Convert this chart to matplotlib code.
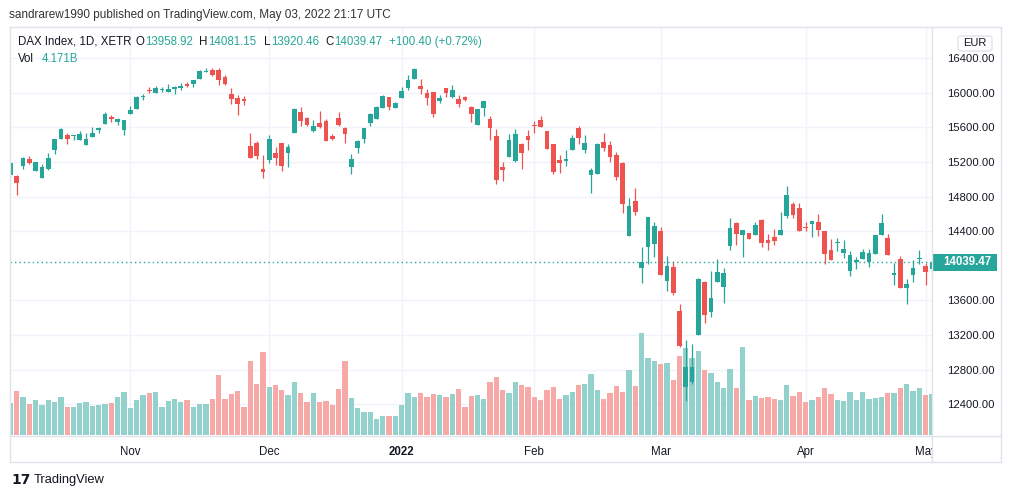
import matplotlib
matplotlib.use('Agg')
import matplotlib.pyplot as plt
import numpy as np
import pandas as pd
from matplotlib.lines import Line2D
from matplotlib.patches import Rectangle, FancyBboxPatch
import matplotlib.transforms as mtransforms

plt.rcParams['font.family'] = ['Liberation Sans', 'DejaVu Sans']

TEAL = '#26a69a'
RED = '#ef5350'
TEAL_VOL = '#93d2cc'
RED_VOL = '#f7a9a7'
TXT = '#131722'
GRID = '#f0f3fa'
BORDER = '#e0e3eb'

# trading days on XETR (exchange holidays removed)
holidays = ['2021-12-24', '2021-12-31', '2022-04-15', '2022-04-18']
dates = pd.bdate_range('2021-10-05', '2022-05-03')
dates = dates[~dates.isin(pd.to_datetime(holidays))]

opens = [15050, 15040, 15155, 15232, 15100, 15020, 15120, 15344, 15467, 15510,
         15505, 15452, 15398, 15491, 15568, 15641, 15718, 15664, 15572,
         15757, 15814, 15949, 16027, 15999, 16030, 16011, 16042, 16053, 16103,
         16099, 16161, 16242, 16265, 16265, 16184, 15991, 15941, 15930, 15386,
         15421, 15120,
         15224, 15305, 15421, 15305, 15540, 15779, 15710, 15560, 15652, 15675,
         15502, 15710, 15594, 15143, 15363, 15467, 15652, 15698, 15829, 15953,
         15829,
         15945, 16057, 16161, 16080, 15999, 16010, 15910, 16057, 15953, 15930,
         15953, 15837, 15632, 15829, 15698, 15502, 15143, 15262, 15216, 15410,
         15502,
         15621, 15687, 15560, 15410, 15224, 15216, 15343, 15595, 15343, 15054,
         15066, 15433, 15398, 15282, 15193, 14346, 14750, 13979, 14222, 14257,
         14403, 13829, 13987, 13479, 12600, 12658, 13205, 13814, 13470, 13817,
         13759, 14234, 14496, 14361, 14380, 14361, 14530, 14299, 14334, 14357,
         14577, 14716, 14669,
         14450, 14484, 14507, 14403, 14184, 14268, 14153, 13945, 14049, 14083,
         14049, 14141, 14357, 14322, 13898, 14080, 13748, 13898, 14083,
         14000, 13958.92]
highs = [15205, 15050, 15260, 15270, 15205, 15180, 15302, 15470, 15590, 15537,
         15517, 15555, 15533, 15610, 15610, 15775, 15741, 15710, 15685,
         15845, 15968, 15983, 16068, 16083, 16068, 16100, 16080, 16114, 16126,
         16146, 16262, 16290, 16288, 16290, 16207, 16057, 15979, 15968, 15540,
         15448, 15282,
         15513, 15375, 15425, 15409, 15826, 15837, 15721, 15687, 15791, 15698,
         15525, 15779, 15606, 15294, 15456, 15597, 15768, 15845, 15972, 15955,
         15892,
         16068, 16207, 16288, 16161, 16045, 16012, 15976, 16060, 16091, 15976,
         15964, 15849, 15818, 15910, 15733, 15583, 15201, 15525, 15583, 15421,
         15571,
         15679, 15733, 15563, 15413, 15282, 15340, 15513, 15617, 15513, 15135,
         15421, 15537, 15444, 15317, 15196, 14785, 14901, 14222, 14565, 14507,
         14450, 14118, 14060, 13560, 13143, 13097, 13855, 13825, 13941, 14080,
         13976, 14554, 14507, 14418, 14383, 14507, 14542, 14369, 14427, 14623,
         14924, 14739, 14727,
         14507, 14522, 14600, 14405, 14311, 14322, 14299, 14172, 14103, 14195,
         14195, 14360, 14600, 14369, 14034, 14114, 13852, 14068, 14184,
         14037, 14081.15]
lows = [15010, 14815, 15120, 15180, 15095, 15015, 15106, 15290, 15465, 15410,
        15457, 15450, 15395, 15490, 15537, 15640, 15667, 15633, 15510,
        15755, 15812, 15922, 16002, 15999, 16014, 16011, 15987, 16033, 16072,
        16065, 16160, 16240, 16199, 16095, 16095, 15875, 15748, 15864, 15245,
        15240, 15020,
        15193, 15167, 15101, 15143, 15538, 15617, 15617, 15548, 15594, 15444,
        15456, 15617, 15421, 15062, 15305, 15421, 15617, 15695, 15826, 15806,
        15826,
        15940, 16034, 16158, 15987, 15860, 15725, 15887, 15953, 15941, 15837,
        15906, 15664, 15628, 15733, 15456, 14950, 14985, 15258, 15205, 15124,
        15343,
        15540, 15605, 15352, 15066, 15078, 15158, 15340, 15413, 15309, 14846,
        15062, 15332, 15205, 14997, 14615, 14343, 14592, 13806, 14025, 14106,
        13898, 13713, 13663, 13060, 12438, 12630, 13200, 13343, 13413, 13815,
        13574, 14187, 14245, 14106, 14311, 14358, 14222, 14187, 14245, 14355,
        14557, 14557, 14400,
        14403, 14334, 14346, 14025, 14070, 14172, 14091, 13887, 13968, 14080,
        13991, 14138, 14355, 14129, 13783, 13748, 13563, 13817, 14025,
        13783, 13920.46]
closes = [15190, 14960, 15245, 15195, 15198, 15145, 15244, 15464, 15579, 15467,
          15512, 15521, 15464, 15533, 15595, 15753, 15700, 15695, 15683,
          15799, 15949, 15969, 16019, 16053, 16040, 16042, 16065, 16084, 16080,
          16146, 16250, 16250, 16210, 16153, 16106, 15933, 15875, 15910, 15251,
          15274, 15089,
          15467, 15247, 15155, 15371, 15814, 15675, 15629, 15617, 15606, 15444,
          15467, 15629, 15525, 15236, 15444, 15594, 15756, 15837, 15964, 15841,
          15883,
          16022, 16149, 16276, 16045, 15941, 15760, 15941, 15999, 16034, 15875,
          15918, 15760, 15814, 15906, 15594, 14997, 15112, 15456, 15525, 15309,
          15459,
          15614, 15609, 15355, 15089, 15193, 15236, 15479, 15482, 15421, 15112,
          15410, 15367, 15262, 15031, 14719, 14692, 14627, 14049, 14565, 14461,
          13898, 14000, 13690, 13077, 12831, 12831, 13849, 13436, 13629, 13930,
          13918, 14438, 14372, 14415, 14315, 14473, 14268, 14268, 14291, 14415,
          14820, 14589, 14403,
          14442, 14519, 14415, 14137, 14072, 14280, 14195, 14126, 14072, 14161,
          14149, 14357, 14496, 14129, 13918, 13748, 13791, 13976, 14095,
          13933, 14039.47]
# volume, billions
volumes = [3.25, 4.47, 3.86, 3.15, 3.56, 3.05, 3.56, 3.36, 3.86, 2.85,
           2.85, 3.25, 3.36, 2.95, 3.05, 3.15, 3.25, 3.86, 4.37,
           2.75, 3.56, 4.07, 4.27, 4.37, 2.85, 3.46, 3.66, 3.36, 3.56,
           2.85, 3.15, 3.15, 3.66, 6.10, 3.66, 4.17, 4.47, 2.85, 7.53,
           5.19, 8.44,
           4.88, 5.09, 4.58, 4.07, 5.39, 4.27, 3.36, 4.27, 3.36, 3.46,
           3.05, 4.68, 7.53, 3.76, 2.75, 2.34, 2.34, 1.63, 1.93, 1.93,
           1.93,
           3.05, 4.27, 3.86, 4.27, 3.86, 4.17, 4.07, 3.86, 4.17, 4.68,
           2.85, 3.97, 4.07, 3.66, 5.39, 5.90, 4.58, 4.27, 5.39, 5.09,
           4.88,
           3.86, 3.56, 4.58, 4.88, 3.66, 4.07, 4.37, 5.09, 5.19, 6.20,
           4.58, 3.66, 4.27, 4.98, 4.37, 6.61, 4.98, 10.37, 7.83, 7.53,
           7.22, 7.32, 5.59, 8.03, 8.85, 7.83, 8.54, 6.61, 6.31, 5.39,
           4.78, 6.71, 4.78, 8.95, 3.56, 3.97, 3.76, 3.86, 3.66, 3.56,
           5.09, 3.97, 4.37,
           3.36, 3.56, 3.86, 4.78, 4.17, 3.56, 3.46, 4.37, 3.56, 4.37,
           3.66, 3.76, 3.86, 4.27, 4.27, 4.78, 5.19, 4.47, 4.78,
           4.07, 4.171]

price_ticks = [12400, 12800, 13200, 13600, 14400, 14800, 15200, 15600, 16000, 16400]
month_labels = ['Nov', 'Dec', '2022', 'Feb', 'Mar', 'Apr', 'May']
header_letters = ['O', 'H', 'L', 'C']
header_values = ['13958.92', '14081.15', '13920.46', '14039.47']
change_text = '+100.40 (+0.72%)'
last_close = 14039.47

o = np.array(opens, float)
h = np.array(highs, float)
l = np.array(lows, float)
c = np.array(closes, float)
v = np.array(volumes, float)
x = np.arange(len(dates))
up = c >= o

# first trading day of each month from November on
month_idx = []
seen = set()
for i, d in enumerate(dates):
    key = (d.year, d.month)
    if key not in seen:
        seen.add(key)
        month_idx.append(i)
month_idx = month_idx[1:]

W, H = 1012, 498
L, R, T, B = 10, 932, 27, 436
fig = plt.figure(figsize=(W / 100, H / 100), dpi=100)
fig.patch.set_facecolor('white')

ax_vol = fig.add_axes([L / W, 1 - B / H, (R - L) / W, (B - T) / H])
ax = ax_vol.twinx()

xmin, xmax = -0.06, 146.0
pmin, pmax = 12033, 16762
vmin, vmax = -0.10, 41.5
ax_vol.set_xlim(xmin, xmax)
ax_vol.set_ylim(vmin, vmax)
ax.set_ylim(pmin, pmax)

# grid (drawn underneath the volume)
for mi in month_idx:
    ax_vol.axvline(mi, color=GRID, lw=1, zorder=0)
for p in price_ticks:
    ax_vol.axhline(vmin + (p - pmin) / (pmax - pmin) * (vmax - vmin), color=GRID, lw=1, zorder=0)

ax_vol.bar(x, v, width=0.84, color=np.where(up, TEAL_VOL, RED_VOL), linewidth=0, zorder=2)

col = np.where(up, TEAL, RED)
ax.vlines(x, l, h, colors=col, linewidth=0.9, zorder=3)
ax.bar(x, np.maximum(np.abs(c - o), 12), bottom=np.minimum(o, c), width=0.74,
       color=col, linewidth=0, zorder=4)
ax.axhline(last_close, color=TEAL, lw=1.0, ls=(0, (1, 2.2)), zorder=5)

for a in (ax_vol, ax):
    for s in a.spines.values():
        s.set_visible(False)
ax_vol.set_yticks([])
ax_vol.patch.set_facecolor('white')
ax.patch.set_visible(False)

ax_vol.set_xticks(month_idx)
ax_vol.set_xticklabels(month_labels)
ax_vol.tick_params(axis='x', length=0, pad=7, labelsize=8.3, labelcolor=TXT)
ax_vol.get_xticklabels()[2].set_fontweight('bold')

ax.set_yticks(price_ticks)
ax.set_yticklabels([f'{p:.2f}' for p in price_ticks])
ax.tick_params(axis='y', length=0, pad=11, labelsize=8.1, labelcolor=TXT)

# last price label on the price scale
blend = mtransforms.blended_transform_factory(ax.transAxes, ax.transData)
ax.add_patch(Rectangle((1.0, last_close - 98), 65 / (R - L), 196, transform=blend,
                       facecolor=TEAL, edgecolor='none', clip_on=False, zorder=10))
ax.text(1 + 35 / (R - L), last_close, f'{last_close:.2f}', transform=blend,
        ha='center', va='center', color='white', fontsize=8.3, fontweight='bold',
        clip_on=False, zorder=11)


def fx(px):
    return px / W


def fy(py):
    return 1 - py / H


# hide the part of the last month label under the price scale
fig.add_artist(Rectangle((fx(R), fy(462)), fx(1001) - fx(R), fy(B) - fy(462),
                         transform=fig.transFigure, facecolor='white', edgecolor='none', zorder=5))

# frame lines
frame = [((L, 1001), (T, T)), ((L, 1001), (462, 462)), ((L, L), (T, 462)),
         ((1001, 1001), (T, 462)), ((R, R), (T, 462)), ((L, 1001), (B, B))]
for xs, ys in frame:
    fig.add_artist(Line2D([fx(xs[0]), fx(xs[1])], [fy(ys[0]), fy(ys[1])],
                          transform=fig.transFigure, color=BORDER, lw=1, zorder=6))

fig.add_artist(FancyBboxPatch((fx(958), fy(51)), fx(34), 15 / H,
                              boxstyle='round,pad=0,rounding_size=0.004',
                              transform=fig.transFigure, facecolor='white',
                              edgecolor=BORDER, lw=1, zorder=6))
fig.text(fx(975), fy(43), 'EUR', ha='center', va='center', fontsize=8, color=TXT, zorder=7)

# header
fig.text(fx(9), fy(15), 'sandrarew1990 published on TradingView.com, May 03, 2022 21:17 UTC',
         ha='left', va='center', fontsize=8.5, color='#333333')
fig.text(fx(18), fy(42), 'DAX Index, 1D, XETR', ha='left', va='center', fontsize=8.3, color=TXT)

renderer = fig.canvas.get_renderer()
header_x = [136, 199, 264, 325]
for letter, px, val in zip(header_letters, header_x, header_values):
    t = fig.text(fx(px), fy(42), letter, ha='left', va='center', fontsize=8.3, color=TXT)
    wpx = t.get_window_extent(renderer).width
    fig.text(fx(px + wpx + 0.5), fy(42), val, ha='left', va='center', fontsize=8.3, color=TEAL)
fig.text(fx(389), fy(42), change_text, ha='left', va='center', fontsize=8.3, color=TEAL)
fig.text(fx(18), fy(59), 'Vol', ha='left', va='center', fontsize=8.3, color=TXT)
fig.text(fx(42), fy(59), '4.171B', ha='left', va='center', fontsize=8.3, color=TEAL)

# footer logo
fig.text(fx(11), fy(480), '17', ha='left', va='center', fontsize=10, fontweight='heavy',
         color=TXT, family='DejaVu Sans')
fig.text(fx(34), fy(480), 'TradingView', ha='left', va='center', fontsize=9.3, color=TXT)

fig.savefig('out.png', dpi=100, facecolor='white')
